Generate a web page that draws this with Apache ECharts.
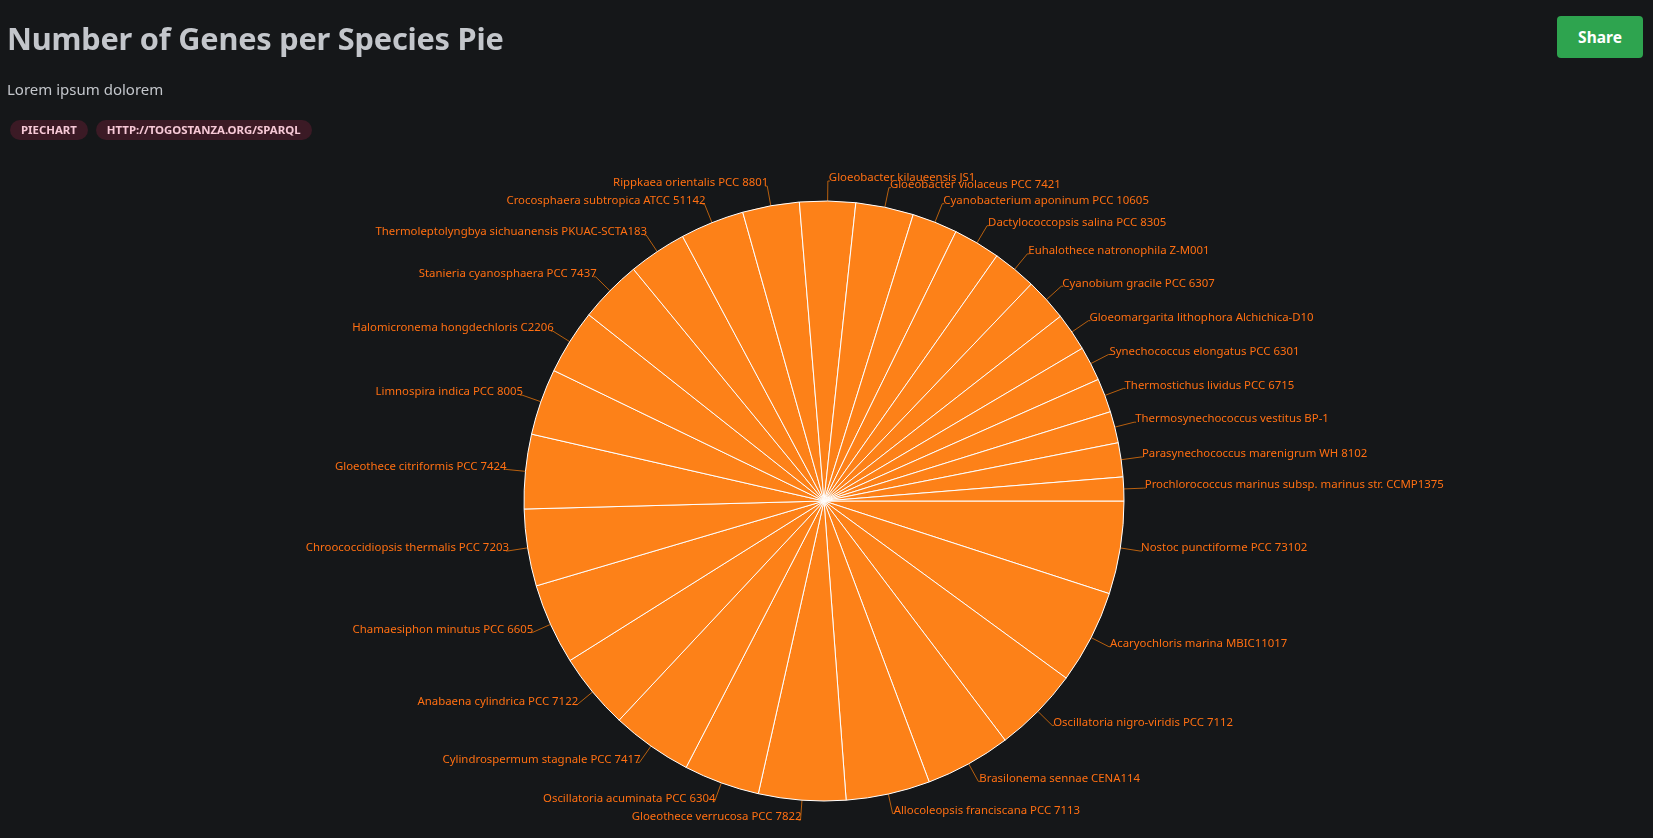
<!DOCTYPE html>
<html>
<head>
<meta charset="utf-8">
<title>Number of Genes per Species Pie</title>
<script src="https://cdn.jsdelivr.net/npm/echarts@6/dist/echarts.min.js"></script>
<style>
  html, body {
    margin: 0;
    padding: 0;
    width: 1653px;
    height: 838px;
    background: #151719;
    overflow: hidden;
    font-family: "Noto Sans", "Open Sans", sans-serif;
  }
  #chart {
    position: absolute;
    left: 0;
    top: 0;
    width: 1653px;
    height: 838px;
  }
  .header {
    position: absolute;
    left: 7px;
    top: 17px;
    z-index: 2;
  }
  .header h1 {
    margin: 0;
    font-size: 30.7px;
    line-height: 42px;
    font-weight: 700;
    color: #c3c6cb;
    letter-spacing: -0.2px;
  }
  .header p {
    margin: 20px 0 0 0;
    font-size: 15px;
    line-height: 20px;
    color: #c3c6cb;
  }
  .tags {
    margin-top: 18px;
    margin-left: 3px;
  }
  .tag {
    display: inline-block;
    background: #3b1a25;
    color: #f6c8d6;
    font-size: 11.4px;
    font-weight: 700;
    padding: 2px 11px;
    border-radius: 10px;
    margin-right: 8px;
    line-height: 16px;
  }
  .share {
    position: absolute;
    left: 1557px;
    top: 16px;
    width: 86px;
    height: 42px;
    background: #2ea44f;
    color: #fff;
    border-radius: 4px;
    font-size: 15.5px;
    font-weight: 700;
    line-height: 42px;
    text-align: center;
    z-index: 2;
  }
</style>
</head>
<body>
<div class="header">
  <h1>Number of Genes per Species Pie</h1>
  <p>Lorem ipsum dolorem</p>
  <div class="tags"><span class="tag">PIECHART</span><span class="tag">HTTP://TOGOSTANZA.ORG/SPARQL</span></div>
</div>
<div class="share">Share</div>
<div id="chart"></div>
<script>
// species, in the order the slices run clockwise from 3 o'clock
const species = [
  'Nostoc punctiforme PCC 73102',
  'Acaryochloris marina MBIC11017',
  'Oscillatoria nigro-viridis PCC 7112',
  'Brasilonema sennae CENA114',
  'Allocoleopsis franciscana PCC 7113',
  'Gloeothece verrucosa PCC 7822',
  'Oscillatoria acuminata PCC 6304',
  'Cylindrospermum stagnale PCC 7417',
  'Anabaena cylindrica PCC 7122',
  'Chamaesiphon minutus PCC 6605',
  'Chroococcidiopsis thermalis PCC 7203',
  'Gloeothece citriformis PCC 7424',
  'Limnospira indica PCC 8005',
  'Halomicronema hongdechloris C2206',
  'Stanieria cyanosphaera PCC 7437',
  'Thermoleptolyngbya sichuanensis PKUAC-SCTA183',
  'Crocosphaera subtropica ATCC 51142',
  'Rippkaea orientalis PCC 8801',
  'Gloeobacter kilaueensis JS1',
  'Gloeobacter violaceus PCC 7421',
  'Cyanobacterium aponinum PCC 10605',
  'Dactylococcopsis salina PCC 8305',
  'Euhalothece natronophila Z-M001',
  'Cyanobium gracile PCC 6307',
  'Gloeomargarita lithophora Alchichica-D10',
  'Synechococcus elongatus PCC 6301',
  'Thermostichus lividus PCC 6715',
  'Thermosynechococcus vestitus BP-1',
  'Parasynechococcus marenigrum WH 8102',
  'Prochlorococcus marinus subsp. marinus str. CCMP1375'
]

// number of genes
const geneCounts = [
  7340, 7420, 6810, 6770, 6650, 6890, 6000, 6410, 6040, 6400,
  6080, 5880, 5260, 5140, 4980, 4610, 5060, 4490, 4410, 4570,
  3590, 3710, 3470, 3390, 3020, 2730, 2690, 2490, 2690, 1880
]

const chart = echarts.init(document.getElementById('chart'))
const options = {
  backgroundColor: 'transparent',
  animation: false,
  series: [
    {
      type: 'pie',
      center: [824, 501],
      radius: 300,
      startAngle: 0,
      clockwise: true,
      avoidLabelOverlap: false,
      minShowLabelAngle: 0,
      // nudge texts a little up, and the left-hand ones a bit closer to the pie
      labelLayout: function (params) {
        const leftSide = params.labelRect.x + params.labelRect.width / 2 < 824
        return { hideOverlap: false, dx: leftSide ? 3 : -1, dy: -3 }
      },
      data: species.map((name, i) => ({ name: name, value: geneCounts[i] })),
      itemStyle: {
        color: '#fd8118',
        borderColor: '#ffffff',
        borderWidth: 1
      },
      label: {
        show: true,
        position: 'outside',
        formatter: '{b}',
        color: '#ff6f12',
        fontSize: 11.4,
        fontFamily: 'Noto Sans',
        distanceToLabelLine: 0
      },
      labelLine: {
        show: true,
        length: 20,
        length2: 2,
        lineStyle: {
          color: '#b8600f',
          width: 1
        }
      },
      emphasis: { disabled: true }
    }
  ]
}
chart.setOption(options)
</script>
</body>
</html>
